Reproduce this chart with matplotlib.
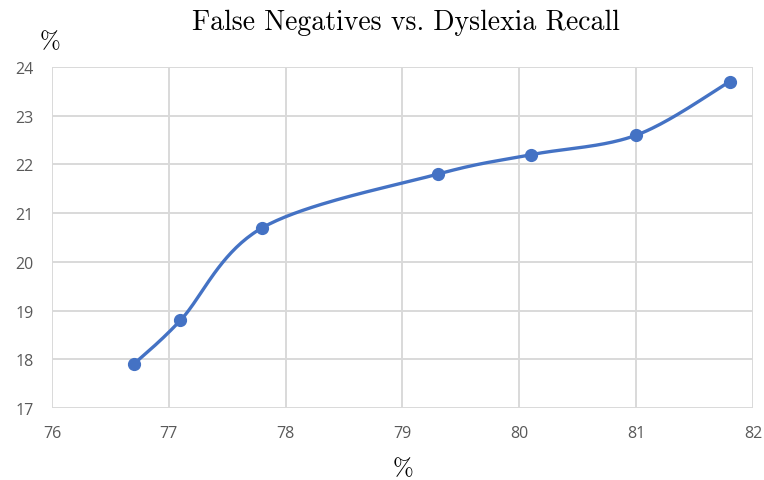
import numpy as np
import matplotlib
matplotlib.use("Agg")
import matplotlib.pyplot as plt

recall = [76.7, 77.1, 77.8, 79.3, 80.1, 81.0, 81.8]
false_neg = [17.9, 18.8, 20.7, 21.8, 22.2, 22.6, 23.7]
x_ticks = [76, 77, 78, 79, 80, 81, 82]
y_ticks = [17, 18, 19, 20, 21, 22, 23, 24]
title = "False Negatives vs. Dyslexia Recall"

def smooth(xs, ys, n=40):
    P = np.column_stack([xs, ys]).astype(float)
    P = np.vstack([P[0], P, P[-1]])
    out = []
    for i in range(1, len(P) - 2):
        p0, p1, p2, p3 = P[i - 1], P[i], P[i + 1], P[i + 2]
        c1 = p1 + (p2 - p0) / 6.0
        c2 = p2 - (p3 - p1) / 6.0
        t = np.linspace(0, 1, n)[:, None]
        seg = ((1 - t) ** 3) * p1 + 3 * ((1 - t) ** 2) * t * c1 + 3 * (1 - t) * t ** 2 * c2 + t ** 3 * p2
        out.append(seg if i == 1 else seg[1:])
    S = np.vstack(out)
    return S[:, 0], S[:, 1]

fig = plt.figure(figsize=(7.64, 4.81), dpi=100)
ax = fig.add_axes([0.068, 0.1497, 0.9176, 0.7089])

sx, sy = smooth(recall, false_neg)
ax.plot(sx, sy, color="#4472C4", lw=2.4, solid_capstyle="round", zorder=3)
ax.plot(recall, false_neg, "o", color="#4472C4", ms=8.5, zorder=4)

ax.set_xlim(76, 82)
ax.set_ylim(17, 24)
ax.set_xticks(x_ticks)
ax.set_yticks(y_ticks)
ax.grid(True, color="#d9d9d9", lw=1.4)
ax.set_axisbelow(True)
for s in ax.spines.values():
    s.set_visible(False)
ax.tick_params(length=0, labelsize=11.5, labelcolor="#595959", pad=12)
for lab in ax.get_xticklabels() + ax.get_yticklabels():
    lab.set_family(["Open Sans", "DejaVu Sans"])
ax.tick_params(axis="y", pad=13)

fig.text(0.531, 0.952, title, family="cmr10", fontsize=20, ha="center", va="center")
fig.text(0.066, 0.913, "%", family="cmr10", fontsize=18, ha="center", va="center")
fig.text(0.528, 0.025, "%", family="cmr10", fontsize=18, ha="center", va="center")

fig.savefig("out.png", dpi=100)
